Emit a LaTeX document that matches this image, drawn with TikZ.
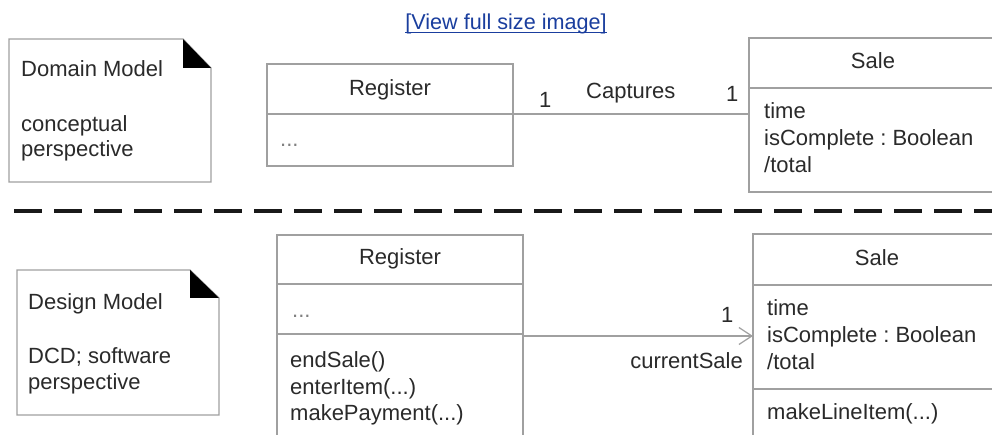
\documentclass[tikz,border=0pt]{standalone}
\usepackage{fontspec}
\setmainfont{Liberation Sans}
\usetikzlibrary{arrows.meta}
\definecolor{linegray}{HTML}{A0A0A0}
\definecolor{txtcol}{HTML}{2A2A2A}
\definecolor{linkblue}{HTML}{1A3E9E}
\frenchspacing
\begin{document}
\begin{tikzpicture}[x=1pt,y=-1pt,
  font=\fontsize{22}{26}\selectfont,
  umlbox/.style={draw=linegray, line width=1.2pt, rectangle, inner sep=0pt, outer sep=0pt, anchor=north west},
  openbox/.style={rectangle, inner sep=0pt, outer sep=0pt, anchor=north west},
  sepline/.style={draw=linegray, line width=1.2pt},
  notepath/.style={draw=linegray, line width=1.2pt, fill=white},
  lbl/.style={inner sep=0pt, anchor=base west, text=txtcol},
  ctr/.style={inner sep=0pt, anchor=base, text=txtcol},
  assoc/.style={draw=linegray, line width=1.2pt},
]
\useasboundingbox (0,0) rectangle (992,435);
\fill[white] (0,0) rectangle (992,435);

% link
\node[inner sep=0pt, anchor=base, text=linkblue, font=\fontsize{21.6}{26}\selectfont] (link) at (506,30) {[View full size image]};
\draw[linkblue, line width=1pt] (link.base west) ++(0,3) -- ([yshift=-3pt]link.base east);

% ---------- Domain model ----------
\path[notepath] (9,39) -- (183,39) -- (211,68) -- (211,182) -- (9,182) -- cycle;
\fill[black] (183,39) -- (183,68) -- (211,68) -- cycle;
\node[lbl] (n1a) at (21,77) {Domain Model};
\node[lbl] (n1b) at (21,132) {conceptual};
\node[lbl] (n1c) at (21,157) {perspective};

\node[umlbox, minimum width=246pt, minimum height=102pt] (reg1) at (267,64) {};
\draw[sepline] (267,114) -- (513,114);
\node[ctr] (reg1t) at (390,96) {Register};
\node[lbl, text=gray] (reg1a) at (280,147) {...};

% Sale box, cut by the right border of the picture
\node[openbox, minimum width=243pt, minimum height=154pt] (sale1) at (749,38) {};
\draw[sepline] (sale1.north east) -- (sale1.north west) -- (sale1.south west) -- (sale1.south east);
\draw[sepline] (749,88) -- (992,88);
\node[ctr] (sale1t) at (873,69) {Sale};
\node[lbl] (sale1a) at (764,119) {time};
\node[lbl] (sale1b) at (764,146) {isComplete : Boolean};
\node[lbl] (sale1c) at (764,173) {/total};

\coordinate (a1s) at (reg1.east |- 0,114);
\coordinate (a1e) at (sale1.west |- 0,114);
\draw[assoc] (a1s) -- (a1e);
\node[lbl] (m1) at (539,108) {1};
\node[lbl] (cap) at (586,99) {Captures};
\node[lbl] (m2) at (726,102) {1};

% ---------- separator ----------
\draw[black!90, line width=4.5pt, dash pattern=on 28pt off 12pt] (14,211) -- (992,211);

% ---------- Design model ----------
\path[notepath] (17,270) -- (190,270) -- (219,298) -- (219,415) -- (17,415) -- cycle;
\fill[black] (190,270) -- (190,298) -- (219,298) -- cycle;
\node[lbl] (n2a) at (28,309) {Design Model};
\node[lbl] (n2b) at (28,363) {DCD; software};
\node[lbl] (n2c) at (28,389) {perspective};

% Register box, cut by the bottom border of the picture
\node[openbox, minimum width=246pt, minimum height=200pt] (reg2) at (277,235) {};
\draw[sepline] (reg2.south west) -- (reg2.north west) -- (reg2.north east) -- (reg2.south east);
\draw[sepline] (277,284) -- (523,284);
\draw[sepline] (277,334) -- (523,334);
\node[ctr] (reg2t) at (400,265) {Register};
\node[lbl, text=gray] (reg2a) at (292,317) {...};
\node[lbl] (reg2m1) at (290,367) {endSale()};
\node[lbl] (reg2m2) at (290,394) {enterItem(...)};
\node[lbl] (reg2m3) at (290,420) {makePayment(...)};

% Sale box, cut by the right and bottom borders
\node[openbox, minimum width=239pt, minimum height=201pt] (sale2) at (753,234) {};
\draw[sepline] (sale2.north east) -- (sale2.north west) -- (sale2.south west);
\draw[sepline] (753,285) -- (992,285);
\draw[sepline] (753,389) -- (992,389);
\node[ctr] (sale2t) at (877,266) {Sale};
\node[lbl] (sale2a) at (767,315) {time};
\node[lbl] (sale2b) at (767,342) {isComplete : Boolean};
\node[lbl] (sale2c) at (767,369) {/total};
\node[lbl] (sale2m) at (767,419) {makeLineItem(...)};

\coordinate (a2s) at (reg2.east |- 0,336);
\coordinate (a2e) at (sale2.west |- 0,336);
\draw[assoc, -{Straight Barb[length=13pt, width=17pt, line width=1.2pt]}] (a2s) -- (a2e);
\node[lbl] (m3) at (721,322) {1};
\node[inner sep=0pt, anchor=base east, text=txtcol] (cs) at (743,368) {currentSale};
\end{tikzpicture}
\end{document}
